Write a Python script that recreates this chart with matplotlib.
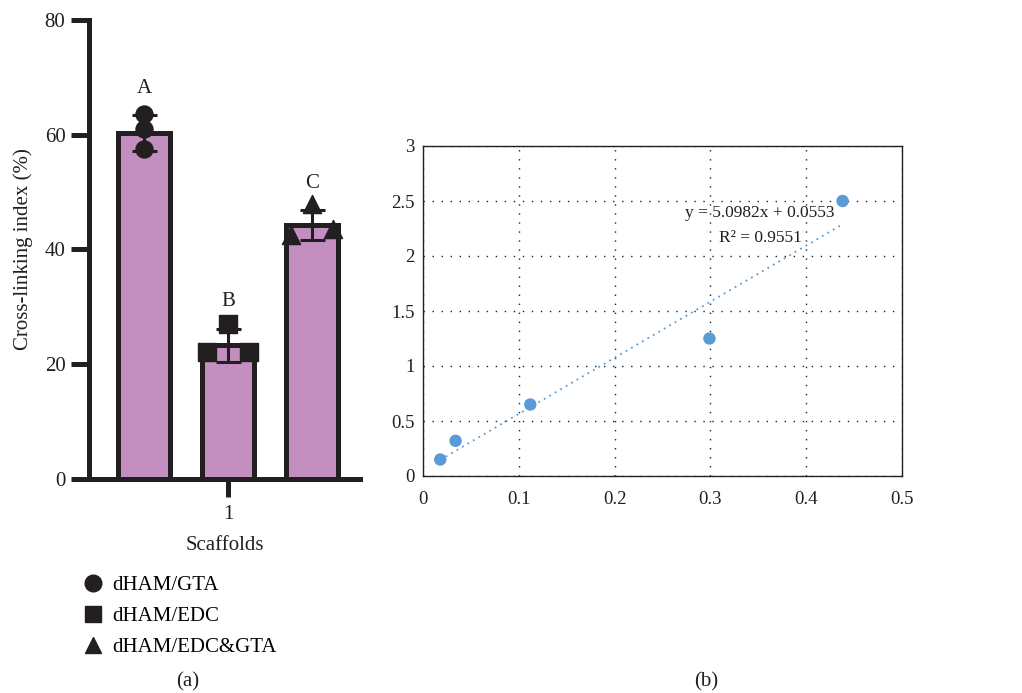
import matplotlib
matplotlib.use("Agg")
import matplotlib.pyplot as plt
from matplotlib.lines import Line2D
import numpy as np

plt.rcParams['font.family'] = ['Liberation Serif', 'DejaVu Serif']

# ---- data: panel (a) ----
groups = ["dHAM/GTA", "dHAM/EDC", "dHAM/EDC&GTA"]
group_markers = ["o", "s", "^"]
bar_means = [60.3, 23.3, 44.3]
bar_sd = [3.1, 2.9, 2.6]
pts_gta = [63.7, 61.0, 57.6]
pts_edc = [27.1, 22.1, 22.1]
pts_edcgta = [48.0, 42.6, 43.6]
letters = ["A", "B", "C"]
x_tick_labels = ["1"]
y_ticks_a = [0, 20, 40, 60, 80]

# ---- data: panel (b) ----
conc = [0.018, 0.034, 0.112, 0.299, 0.438]
absorb = [0.15, 0.32, 0.65, 1.25, 2.50]
slope = 5.0982
intercept = 0.0553
r2 = 0.9551

W, H = 1022, 693
fig = plt.figure(figsize=(W / 100, H / 100), dpi=100)
ink = "#231F20"
fs_a = 15

def ax_px(l, t, r, b):
    return fig.add_axes([l / W, 1 - b / H, (r - l) / W, (b - t) / H])

# ---------------- panel (a) ----------------
ax = ax_px(89, 20, 360, 479)
pos = [-1, 0, 1]
fill = "#C28FC0"
ax.bar(pos, bar_means, width=0.62, color=fill, edgecolor=ink, linewidth=3.6, zorder=2)
jitter = [[0, 0, 0], [0, -0.25, 0.25], [0, -0.25, 0.25]]
all_pts = [pts_gta, pts_edc, pts_edcgta]
for i, (p, pts, m) in enumerate(zip(pos, all_pts, group_markers)):
    ax.errorbar(p, bar_means[i], yerr=bar_sd[i], fmt="none", ecolor=ink,
                elinewidth=2.2, capsize=9, capthick=2.2, zorder=4)
    ax.scatter([p + j for j in jitter[i]], pts, marker=m, s=150 if m != "^" else 170,
               color=ink, zorder=5, clip_on=False)
    ax.text(p, bar_means[i] + bar_sd[i] + 3.0, letters[i], ha="center", va="bottom", fontsize=fs_a, color=ink)

ax.set_xlim(-1.66, 1.57)
ax.set_ylim(0, 80)
ax.set_yticks(y_ticks_a)
ax.set_xticks([0])
ax.set_xticklabels(x_tick_labels)
for s in ["top", "right"]:
    ax.spines[s].set_visible(False)
for s in ["left", "bottom"]:
    ax.spines[s].set_linewidth(3.6)
    ax.spines[s].set_color(ink)
ax.tick_params(axis="both", length=13, width=3.6, color=ink, labelsize=fs_a, labelcolor=ink)
ax.tick_params(axis="y", pad=4)
ax.tick_params(axis="x", pad=6)
ax.set_ylabel("Cross-linking index (%)", fontsize=fs_a, color=ink, labelpad=8)
ax.set_xlabel("Scaffolds", fontsize=fs_a, color=ink, labelpad=8)

handles = [Line2D([], [], marker=m, linestyle="none", color=ink, markersize=12) for m in group_markers]
fig.legend(handles, groups, loc="upper left", bbox_to_anchor=(74 / W, 1 - 567 / H), frameon=False,
           fontsize=fs_a, handletextpad=0.45, labelspacing=0.55, handlelength=1.0, borderaxespad=0)

fig.text(188 / W, 1 - 682 / H, "(a)", ha="center", va="center", fontsize=fs_a, color=ink)

# ---------------- panel (b) ----------------
fs_b = 12.5
bx = ax_px(423, 146, 902, 476)
bx.scatter(conc, absorb, s=80, color="#5B9BD5", zorder=3, edgecolors="none")
xfit = np.array([min(conc), max(conc)])
bx.plot(xfit, slope * xfit + intercept, linestyle=(0, (1, 2.5)), color="#5B9BD5", linewidth=1.3, zorder=2)
bx.set_xlim(0, 0.5)
bx.set_ylim(0, 3)
bx.set_xticks([0, 0.1, 0.2, 0.3, 0.4, 0.5])
bx.set_xticklabels(["0", "0.1", "0.2", "0.3", "0.4", "0.5"])
bx.set_yticks([0, 0.5, 1, 1.5, 2, 2.5, 3])
bx.set_yticklabels(["0", "0.5", "1", "1.5", "2", "2.5", "3"])
bx.grid(True, linestyle=(0, (1, 5.5)), color=ink, linewidth=1.0)
bx.set_axisbelow(True)
for s in bx.spines.values():
    s.set_linewidth(1.0)
    s.set_color(ink)
bx.tick_params(axis="both", length=0, labelsize=13.5, labelcolor=ink)
bx.tick_params(axis="x", pad=11)
bx.tick_params(axis="y", pad=6)
bx.text(0.352, 2.39, f"y = {slope:.4f}x + {intercept:.4f}", ha="center", va="center", fontsize=fs_b, color=ink)
bx.text(0.352, 2.16, f"R² = {r2:.4f}", ha="center", va="center", fontsize=fs_b, color=ink)

fig.text(706 / W, 1 - 682 / H, "(b)", ha="center", va="center", fontsize=fs_a, color=ink)

fig.savefig("out.png", dpi=100, facecolor="white")
